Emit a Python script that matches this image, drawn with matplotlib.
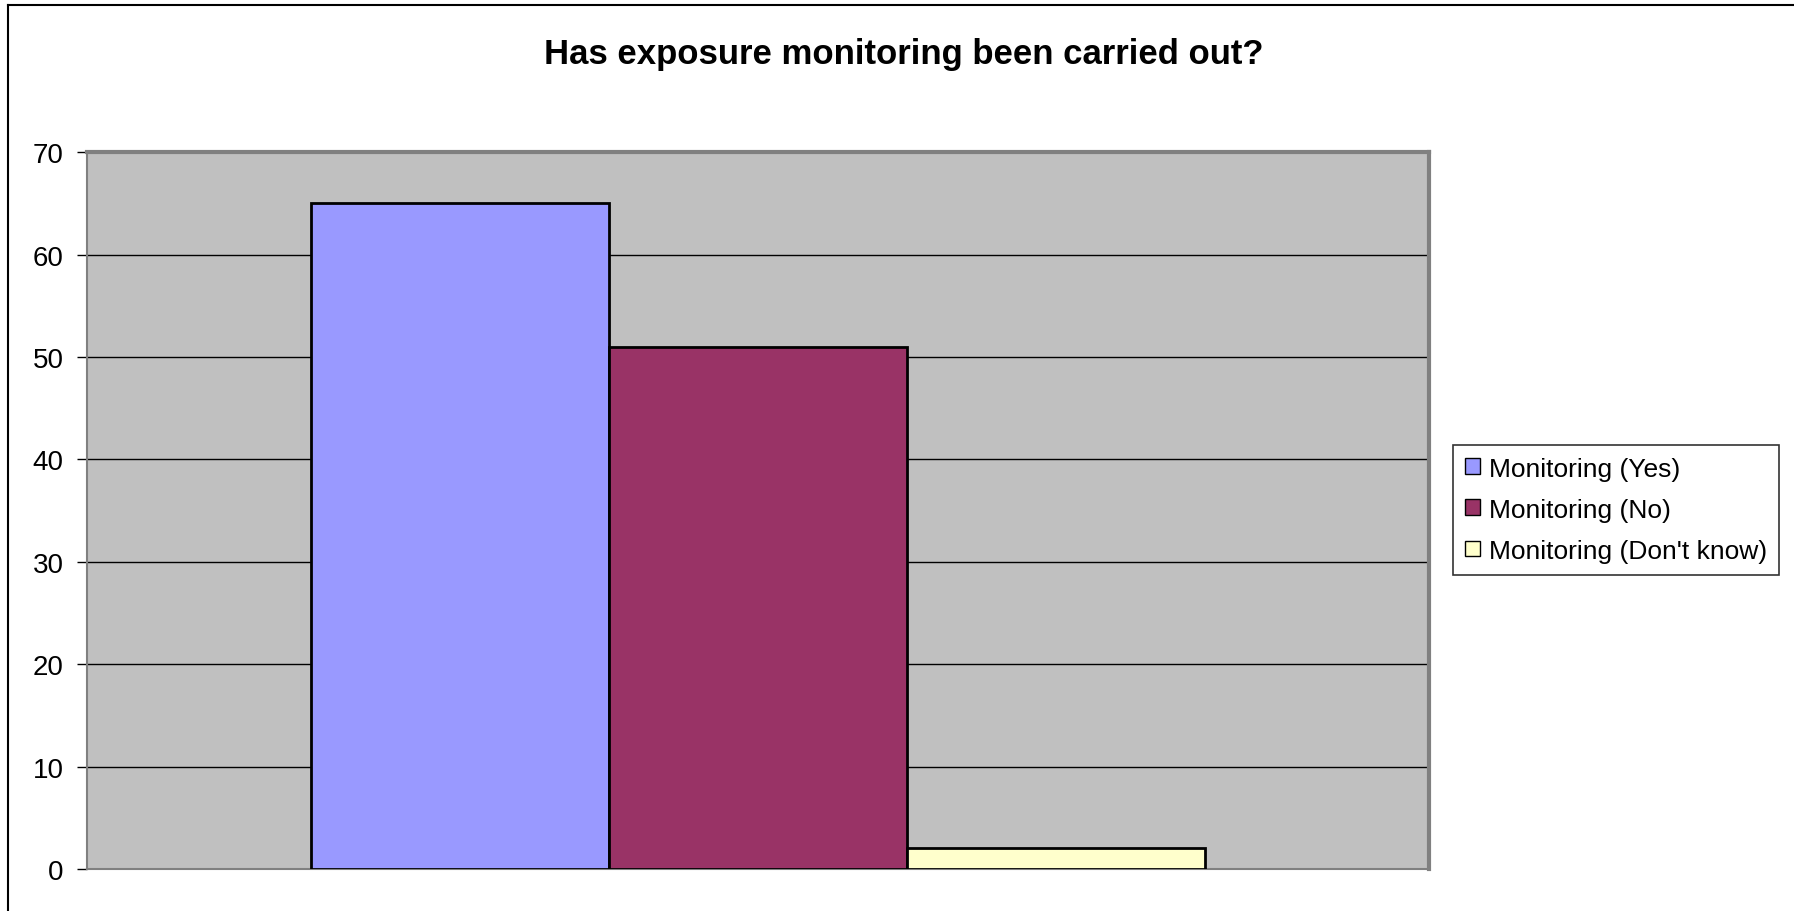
import matplotlib
matplotlib.use("Agg")
from matplotlib import pyplot as plt
from matplotlib.lines import Line2D
import numpy as np

plt.rcParams["font.family"] = ["Liberation Sans", "DejaVu Sans"]

# survey answers
labels = ["Monitoring (Yes)", "Monitoring (No)", "Monitoring (Don't know)"]
counts = [65, 51, 2]
colors = ["#9999FF", "#993366", "#FFFFCC"]
y_ticks = [0, 10, 20, 30, 40, 50, 60, 70]

fig = plt.figure(figsize=(17.94, 9.12), dpi=100)
ax = fig.add_axes([0.0485, 0.0461, 0.748, 0.786])
ax.set_facecolor("#C0C0C0")

# one category, three bars side by side
width = 2 / 9
offsets = (np.arange(len(counts)) - 1) * width
for off, val, col, lab in zip(offsets, counts, colors, labels):
    ax.bar(off, val, width, color=col, edgecolor="black", linewidth=2,
           label=lab, zorder=3)

ax.set_xlim(-0.5, 0.5)
ax.set_ylim(0, 70)
ax.set_yticks(y_ticks)
ax.yaxis.grid(True, color="black", linewidth=1, zorder=1)
ax.set_axisbelow(True)
ax.set_xticks([])
ax.tick_params(axis="y", length=7, width=1, pad=10, labelsize=20)

for side in ["left", "bottom"]:
    ax.spines[side].set_color("#808080")
    ax.spines[side].set_linewidth(1.5)
for side in ["right", "top"]:
    ax.spines[side].set_color("#808080")
    ax.spines[side].set_linewidth(3)

fig.suptitle("Has exposure monitoring been carried out?", x=0.504, y=0.94,
             fontsize=25, fontweight="bold", va="center")

leg = fig.legend(loc="center left", bbox_to_anchor=(0.81, 0.44),
                 fontsize=19, frameon=True, fancybox=False, edgecolor="black",
                 handlelength=0.55, handleheight=0.55, handletextpad=0.35,
                 borderpad=0.45, labelspacing=0.65, borderaxespad=0)
for h in leg.legend_handles:
    h.set_linewidth(1)
leg.get_frame().set_linewidth(1.2)

# chart area border
fig.add_artist(Line2D([8 / 1794, 8 / 1794], [0, 1 - 6 / 912], color="black", linewidth=1.5))
fig.add_artist(Line2D([8 / 1794, 1], [1 - 6 / 912, 1 - 6 / 912], color="black", linewidth=1.5))

fig.savefig("out.png", dpi=100)
